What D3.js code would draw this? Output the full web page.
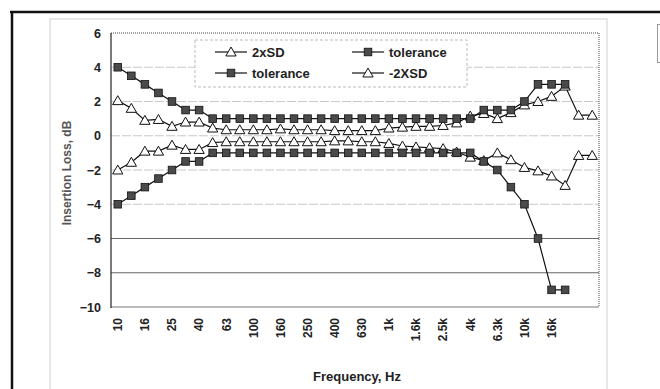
<!DOCTYPE html>
<html><head><meta charset="utf-8">
<script src="https://cdn.jsdelivr.net/npm/d3@7"></script>
<style>body{margin:0;background:#fff}svg{display:block;font-family:"Liberation Sans",Arial,sans-serif;font-weight:bold}</style>
</head><body>
<svg id="c" width="660" height="389"></svg>
<script>
const categories = ["10","12.5","16","20","25","31.5","40","50","63","80","100","125","160","200","250","315","400","500","630","800","1k","1.25k","1.6k","2k","2.5k","3.15k","4k","5k","6.3k","8k","10k","12.5k","16k","20k","25k","31.5k"];
const tickLabels = ["10","16","25","40","63","100","160","250","400","630","1k","1.6k","2.5k","4k","6.3k","10k","16k"];
const yTicks = [6,4,2,0,-2,-4,-6,-8,-10];
const sdUpper = [2.05,1.6,0.9,0.95,0.55,0.8,0.8,0.45,0.35,0.35,0.35,0.35,0.4,0.35,0.35,0.35,0.3,0.3,0.3,0.3,0.45,0.5,0.55,0.55,0.6,0.75,1.15,1.3,1.0,1.35,1.8,2.0,2.3,2.9,1.2,1.2];
const sdLower = [-2.0,-1.55,-0.9,-0.9,-0.55,-0.8,-0.8,-0.4,-0.35,-0.35,-0.35,-0.35,-0.35,-0.35,-0.35,-0.35,-0.3,-0.3,-0.35,-0.35,-0.45,-0.6,-0.65,-0.7,-0.75,-0.95,-1.25,-1.45,-1.0,-1.4,-1.85,-2.05,-2.35,-2.9,-1.15,-1.15];
const tolUpper = [4,3.5,3,2.5,2,1.5,1.5,1,1,1,1,1,1,1,1,1,1,1,1,1,1,1,1,1,1,1,1,1.5,1.5,1.5,2,3,3,3];
const tolLower = [-4,-3.5,-3,-2.5,-2,-1.5,-1.5,-1,-1,-1,-1,-1,-1,-1,-1,-1,-1,-1,-1,-1,-1,-1,-1,-1,-1,-1,-1,-1.5,-2,-3,-4,-6,-9,-9];

const svg = d3.select("#c");
const L=111,R=599,T=33,B=307;
const x = d3.scaleBand().domain(categories).range([L,R]).padding(0);
const y = d3.scaleLinear().domain([-10,6]).range([B,T]);
const cx = c => x(c)+x.bandwidth()/2;

// frames
svg.append("rect").attr("x",50).attr("y",19).attr("width",557).attr("height",380).attr("fill","none").attr("stroke","#d0d0d0");
svg.append("line").attr("x1",10).attr("x2",660).attr("y1",12).attr("y2",12).attr("stroke","#111").attr("stroke-width",2.5);
svg.append("line").attr("x1",12).attr("x2",12).attr("y1",11).attr("y2",389).attr("stroke","#111").attr("stroke-width",2.5);
svg.append("rect").attr("x",657.5).attr("y",24.5).attr("width",6).attr("height",38).attr("fill","none").attr("stroke","#999");

// gridlines
yTicks.filter(v=>v>-10&&v<6).forEach(v=>{
  svg.append("line").attr("x1",L).attr("x2",R).attr("y1",y(v)).attr("y2",y(v))
    .attr("stroke", v<=-6 ? "#666" : "#c8c8c8").attr("stroke-width",1)
    .attr("stroke-dasharray", v<=-6 ? null : "9,2");
});
// plot border
svg.append("line").attr("x1",L).attr("x2",R).attr("y1",T).attr("y2",T).attr("stroke","#444").attr("stroke-dasharray","1,1");
svg.append("line").attr("x1",R).attr("x2",R).attr("y1",T).attr("y2",B).attr("stroke","#444").attr("stroke-dasharray","1,1");
svg.append("line").attr("x1",L).attr("x2",R).attr("y1",B).attr("y2",B).attr("stroke","#777");
svg.append("line").attr("x1",L).attr("x2",L).attr("y1",T).attr("y2",B+1).attr("stroke","#222").attr("stroke-width",1.2);

// y axis labels
const ya = svg.append("g").attr("transform",`translate(${L},0)`).call(d3.axisLeft(y).tickValues(yTicks).tickSize(0).tickPadding(10));
ya.select(".domain").remove();
ya.selectAll("text").attr("font-size",12.5).attr("font-weight","bold").attr("fill","#222").attr("font-family","Liberation Sans, Arial, sans-serif");

// x axis labels
const xa = svg.append("g").attr("transform",`translate(0,${B})`).call(d3.axisBottom(x).tickValues(tickLabels).tickSize(0));
xa.select(".domain").remove();
xa.selectAll("text").attr("font-size",12).attr("font-weight","bold").attr("fill","#222").attr("font-family","Liberation Sans, Arial, sans-serif")
  .attr("text-anchor","end").attr("transform","rotate(-90)").attr("x",-11).attr("y",0).attr("dy","0.36em");

// titles
svg.append("text").attr("transform","translate(71,173) rotate(-90)").attr("text-anchor","middle").attr("font-size",12).attr("fill","#555").text("Insertion Loss, dB");
svg.append("text").attr("x",357).attr("y",381).attr("text-anchor","middle").attr("font-size",13).attr("fill","#222").text("Frequency, Hz");

// series
const line = d3.line().x((d,i)=>cx(categories[i])).y(d=>y(d));
const tri = d3.symbol().type(d3.symbolTriangle).size(46);
function drawSeries(vals, kind){
  const g = svg.append("g");
  g.append("path").attr("d",line(vals)).attr("fill","none").attr("stroke","#111").attr("stroke-width",1.2);
  vals.forEach((v,i)=>{
    if(kind==="sq"){
      g.append("rect").attr("x",cx(categories[i])-3.8).attr("y",y(v)-3.8).attr("width",7.6).attr("height",7.6).attr("fill","#4a4a4a").attr("stroke","#111").attr("stroke-width",0.8);
    } else {
      g.append("path").attr("d",tri()).attr("transform",`translate(${cx(categories[i])},${y(v)+1})`).attr("fill","#fff").attr("stroke","#111").attr("stroke-width",1);
    }
  });
}
drawSeries(sdUpper,"tri");
drawSeries(sdLower,"tri");
drawSeries(tolUpper,"sq");
drawSeries(tolLower,"sq");

// legend
const lg = svg.append("g");
lg.append("rect").attr("x",195).attr("y",40).attr("width",272).attr("height",47).attr("fill","#fff").attr("stroke","#bbb").attr("stroke-dasharray","3,2");
const legendNames = ["2xSD","tolerance","tolerance","-2XSD"];
const legendKinds = ["tri","sq","sq","tri"];
const lx = [215,352,215,352], ly=[52,52,73,73];
legendNames.forEach((n,i)=>{
  lg.append("line").attr("x1",lx[i]).attr("x2",lx[i]+32).attr("y1",ly[i]).attr("y2",ly[i]).attr("stroke","#111").attr("stroke-width",1.2);
  const mx = lx[i]+16;
  if(legendKinds[i]==="sq") lg.append("rect").attr("x",mx-3.8).attr("y",ly[i]-3.8).attr("width",7.6).attr("height",7.6).attr("fill","#4a4a4a").attr("stroke","#111").attr("stroke-width",0.8);
  else lg.append("path").attr("d",tri()).attr("transform",`translate(${mx},${ly[i]+1})`).attr("fill","#fff").attr("stroke","#111");
  lg.append("text").attr("x",lx[i]+37).attr("y",ly[i]+4.5).attr("font-size",13).attr("fill","#222").text(n);
});
</script>
</body></html>
